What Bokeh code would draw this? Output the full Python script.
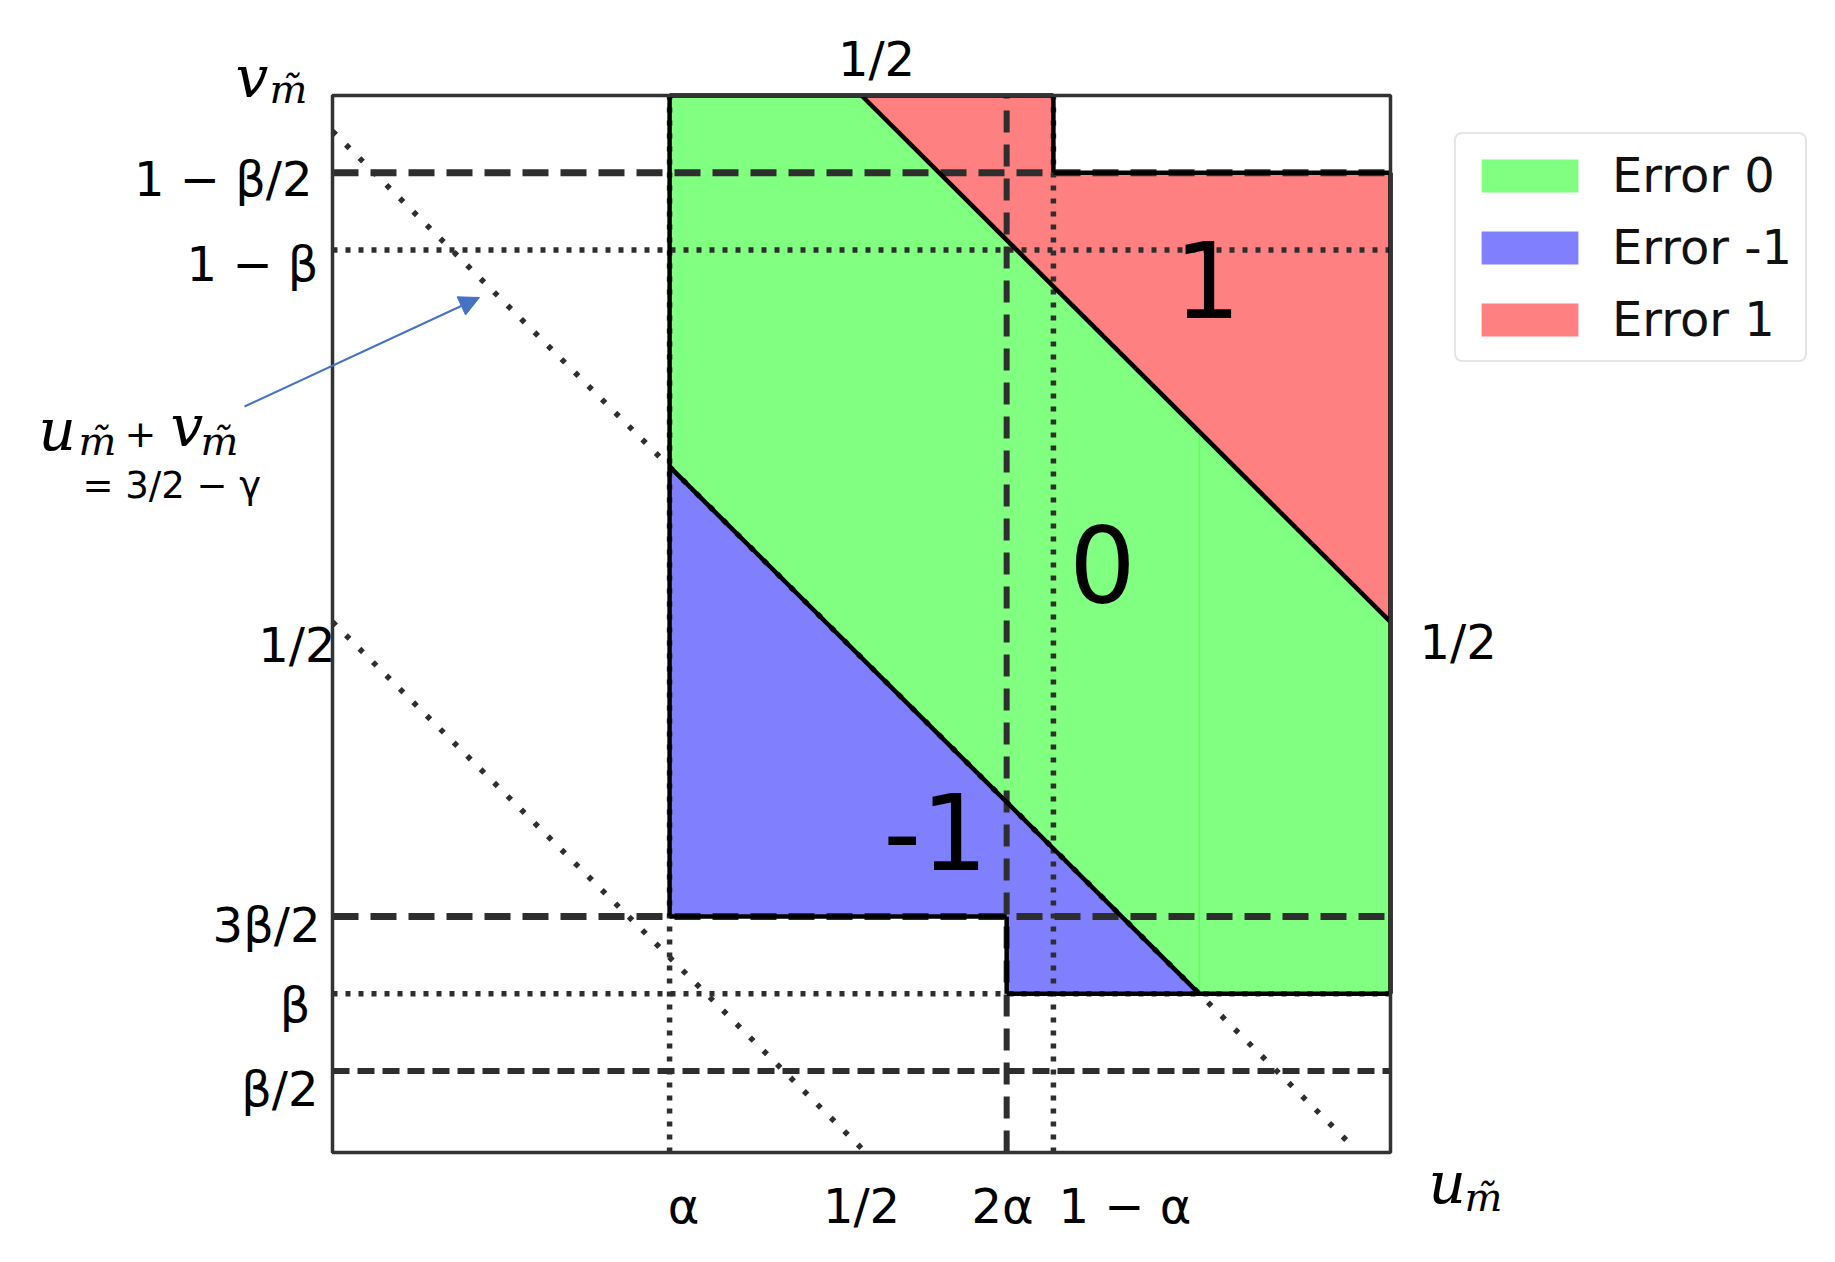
from bokeh.plotting import figure
from bokeh.models import (Range1d, Label, LabelSet, ColumnDataSource, Legend,
                          LegendItem, Arrow, NormalHead)
from bokeh.core.properties import value
from bokeh.embed import file_html
from bokeh.resources import INLINE

# ---------------- parameters ----------------
ALPHA = 0.3186
BETA = 0.1467
GAMMA = 0.534          # 3/2 - gamma ~ 0.966

C_LOW = 1.5 - GAMMA    # u + v = 3/2 - gamma
C_HIGH = 1.5           # u + v = 3/2
U_SPLIT = C_LOW - BETA

# reference lines
h_dashed_long = [1 - BETA / 2, 3 * BETA / 2]
h_dashed_short = [BETA / 2]
h_dotted = [1 - BETA, BETA]
v_dashed = [2 * ALPHA]
v_dotted = [ALPHA, 1 - ALPHA]
diag_sums = [0.5, C_LOW]

# tick labels
left_ticks = [BETA / 2, BETA, 3 * BETA / 2, 0.5, 1 - BETA, 1 - BETA / 2]
left_labels = ["β/2", "β", "3β/2", "1/2", "1 − β", "1 − β/2"]
bottom_ticks = [ALPHA, 0.5, 2 * ALPHA]
bottom_labels = ["α", "1/2", "2α"]
extra_bottom_ticks = [1 - ALPHA]
extra_bottom_labels = ["1 − α"]
top_ticks = [0.5]
top_labels = ["1/2"]
right_ticks = [0.5]
right_labels = ["1/2"]

# regions
green_u = [[ALPHA, ALPHA, C_HIGH - 1, U_SPLIT, U_SPLIT],
           [U_SPLIT, U_SPLIT, 1, 1]]
green_v = [[C_LOW - ALPHA, 1, 1, C_HIGH - U_SPLIT, BETA],
           [BETA, C_HIGH - U_SPLIT, C_HIGH - 1, BETA]]
blue_u = [[ALPHA, ALPHA, U_SPLIT, 2 * ALPHA, 2 * ALPHA]]
blue_v = [[3 * BETA / 2, C_LOW - ALPHA, BETA, BETA, 3 * BETA / 2]]
red_u = [[C_HIGH - 1, 1 - ALPHA, 1 - ALPHA, 1, 1]]
red_v = [[1, 1, 1 - BETA / 2, 1 - BETA / 2, C_HIGH - 1]]

series_names = ["Error 0", "Error -1", "Error 1"]
series_colors = ["#80FF80", "#8080FF", "#FF8080"]

# region boundaries (solid)
outline_u = [[ALPHA, ALPHA], [ALPHA, 2 * ALPHA], [2 * ALPHA, 2 * ALPHA],
             [2 * ALPHA, 1], [1, 1], [1 - ALPHA, 1], [1 - ALPHA, 1 - ALPHA],
             [ALPHA, U_SPLIT], [C_HIGH - 1, 1], [ALPHA, 1 - ALPHA]]
outline_v = [[3 * BETA / 2, 1], [3 * BETA / 2, 3 * BETA / 2], [3 * BETA / 2, BETA],
             [BETA, BETA], [BETA, 1 - BETA / 2], [1 - BETA / 2, 1 - BETA / 2],
             [1 - BETA / 2, 1], [C_LOW - ALPHA, BETA], [1, C_HIGH - 1], [1, 1]]

# ---------------- canvas geometry ----------------
W, H = 1819, 1240
BOX_L, BOX_T = 332, 95          # canvas px of the plot box (u=0, v=1)
PX_PER_U = 1058.0
Y0 = -0.004                     # v at the bottom edge of the box
PX_PER_V = 1057.0 / (1.0 - Y0)

x_start = -BOX_L / PX_PER_U
x_end = (W - BOX_L) / PX_PER_U
y_end = 1.0 + BOX_T / PX_PER_V
y_start = y_end - H / PX_PER_V

p = figure(width=W, height=H,
           x_range=Range1d(x_start, x_end), y_range=Range1d(y_start, y_end),
           x_axis_location=None, y_axis_location=None,
           min_border=0, output_backend="svg", toolbar_location=None)
p.grid.grid_line_color = None
p.outline_line_color = None
p.background_fill_color = "white"
p.border_fill_color = "white"

# patches
r_green = p.patches(green_u, green_v, fill_color=series_colors[0], line_color=None)
r_blue = p.patches(blue_u, blue_v, fill_color=series_colors[1], line_color=None)
r_red = p.patches(red_u, red_v, fill_color=series_colors[2], line_color=None)
p.segment(x0=[U_SPLIT], y0=[BETA], x1=[U_SPLIT], y1=[C_HIGH - U_SPLIT],
          line_color="#5EFF5E", line_width=1.5)

# reference lines (limited to the box)
LC = "#2e2e2e"
def hlines(vals, **kw):
    p.segment(x0=[0] * len(vals), y0=vals, x1=[1] * len(vals), y1=vals, **kw)

def vlines(vals, **kw):
    p.segment(x0=vals, y0=[Y0] * len(vals), x1=vals, y1=[1] * len(vals), **kw)

hlines(h_dashed_long, line_color=LC, line_width=7, line_dash="26 12")
hlines(h_dashed_short, line_color=LC, line_width=6, line_dash="17 8")
hlines(h_dotted, line_color=LC, line_width=5.5, line_dash="5 8")
vlines(v_dashed, line_color=LC, line_width=6, line_dash="22 12")
vlines(v_dotted, line_color=LC, line_width=5.5, line_dash="5 8")
p.segment(x0=[0] * len(diag_sums), y0=diag_sums, x1=diag_sums, y1=[0] * len(diag_sums),
          line_color=LC, line_width=5.5, line_dash="5 14")

# solid outlines
p.multi_line(outline_u, outline_v, line_color="black", line_width=4.5)

# plot box
p.quad(left=[0], right=[1], bottom=[Y0], top=[1], fill_color=None,
       line_color="#333333", line_width=3.5)

# ---------------- helpers for text placement ----------------
def u_of(xp):   # reference-image pixel -> data u
    return (xp - 8 - BOX_L) / PX_PER_U

def v_of(yp):   # reference-image pixel -> data v
    return 1.0 - (yp - 8 - BOX_T) / PX_PER_V

TICK_FONT = value("DejaVu Sans")
TICK_SIZE = value("48px")

def tick_labels(xs, ys, texts, align, baseline, dx=None, dy=None):
    n = len(texts)
    src = ColumnDataSource(dict(x=xs, y=ys, text=texts,
                                dx=dx if dx is not None else [0] * n,
                                dy=dy if dy is not None else [0] * n))
    p.add_layout(LabelSet(x="x", y="y", text="text", source=src,
                          x_offset="dx", y_offset="dy",
                          text_align=align, text_baseline=baseline,
                          text_font=TICK_FONT, text_font_size=TICK_SIZE,
                          text_color="black"))

# small hand-placement nudges seen in the reference (pixels)
left_dx = [6, -2, 8, 23, 6, 0]
left_dy = [-18, -11, -8, -23, -14, -6]
tick_labels([u_of(320)] * len(left_ticks), left_ticks, left_labels,
            "right", "middle", left_dx, left_dy)
tick_labels(bottom_ticks, [v_of(1230)] * len(bottom_ticks), bottom_labels,
            "center", "alphabetic", [14, 0, -4], None)
tick_labels(extra_bottom_ticks, [v_of(1230)] * len(extra_bottom_ticks),
            extra_bottom_labels, "left", "alphabetic", [5], None)
tick_labels(top_ticks, [v_of(83)] * len(top_ticks), top_labels,
            "center", "alphabetic", [15], None)
tick_labels([u_of(1427)] * len(right_ticks), right_ticks, right_labels,
            "left", "middle", None, [-20])

def put(text, xp, yp, size, font="DejaVu Sans", style="normal",
        align="left", baseline="alphabetic", color="black"):
    p.add_layout(Label(x=u_of(xp), y=v_of(yp), text=text, text_font=font,
                       text_font_style=style, text_font_size=size,
                       text_align=align, text_baseline=baseline, text_color=color))

# region labels
put("1", 1215, 287, "105px", align="center", baseline="middle")
put("0", 1110, 572, "105px", align="center", baseline="middle")
put("-1", 943, 839, "105px", align="center", baseline="middle")

# axis names
SERIF = "DejaVu Serif"
BIG, SUB = "58px", "40px"
put("v", 243, 84, BIG, font=SERIF, style="italic")
put("m\u0303", 277, 96, SUB, font=SERIF, style="italic")
put("u", 1436, 1190, BIG, font=SERIF, style="italic")
put("m\u0303", 1472, 1204, SUB, font=SERIF, style="italic")

# annotation of the dotted line
put("u", 46, 437, BIG, font=SERIF, style="italic")
put("m\u0303", 86, 448, SUB, font=SERIF, style="italic")
put("+", 132, 441, "38px")
put("v", 178, 433, BIG, font=SERIF, style="italic")
put("m\u0303", 208, 448, SUB, font=SERIF, style="italic")
put("= 3/2 − γ", 90, 493, "37px")

p.add_layout(Arrow(x_start=u_of(252), y_start=v_of(414), x_end=u_of(487), y_end=v_of(305),
                   line_color="#4472C4", line_width=2,
                   end=NormalHead(size=20, fill_color="#4472C4", line_color="#4472C4")))

# ---------------- legend ----------------
legend = Legend(items=[LegendItem(label=series_names[0], renderers=[r_green]),
                       LegendItem(label=series_names[1], renderers=[r_blue]),
                       LegendItem(label=series_names[2], renderers=[r_red])],
                location=(1454, H - 362))
legend.glyph_width = 121
legend.glyph_height = 41
legend.label_standoff = 22
legend.padding = 13
legend.spacing = 16
legend.margin = 0
legend.label_text_font = "DejaVu Sans"
legend.label_text_font_size = "48px"
legend.label_text_color = "#111111"
legend.border_line_color = "#CCCCCC"
legend.border_line_width = 2
legend.background_fill_color = "white"
legend.background_fill_alpha = 1.0
if "border_radius" in Legend.properties():
    legend.border_radius = 8
p.add_layout(legend)

open("out.html", "w").write(file_html(p, INLINE))
